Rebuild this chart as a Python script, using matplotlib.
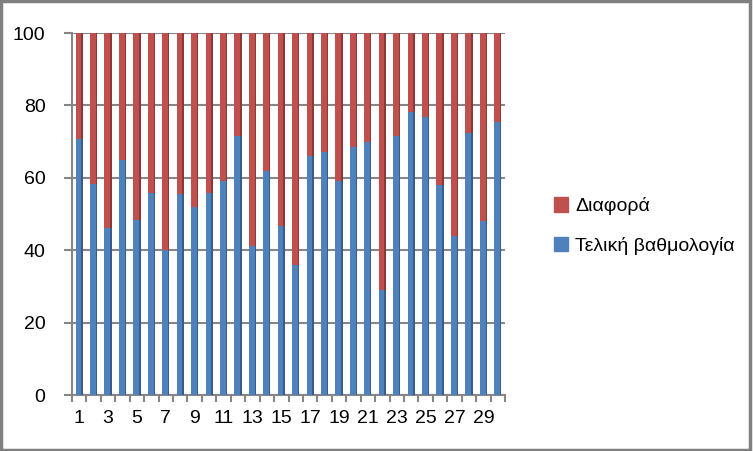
import matplotlib
matplotlib.use("Agg")
import matplotlib.pyplot as plt
import numpy as np
from matplotlib.patches import Patch, Rectangle

categories = list(range(1, 31))
score = [70.8, 58.4, 46.0, 64.8, 48.3, 55.9, 40.0, 55.5, 52.0, 55.9,
         59.2, 71.5, 41.1, 62.0, 46.7, 36.0, 66.0, 67.1, 59.2, 68.4,
         70.0, 29.0, 71.5, 78.2, 76.7, 58.0, 44.0, 72.4, 48.0, 75.3]
diff = [100 - s for s in score]
xtick_labels = [str(c) if c % 2 == 1 else "" for c in categories]

plt.rcParams['font.family'] = ['Liberation Sans Narrow', 'Liberation Sans', 'DejaVu Sans']

fig = plt.figure(figsize=(7.53, 4.51), dpi=100)
ax = fig.add_axes([72/753, 1-395/451, (505-72)/753, (395-33)/451])

x = np.arange(len(categories))
blue, blue_d = '#4F81BD', '#385D8A'
red, red_d = '#C0504D', '#8C3836'
w = 0.40
sw = 0.10
ax.bar(x - sw/2, score, width=w, color=blue, zorder=3)
ax.bar(x - sw/2, diff, bottom=score, width=w, color=red, zorder=3)
ax.bar(x + w/2, score, width=sw, color=blue_d, zorder=3)
ax.bar(x + w/2, diff, bottom=score, width=sw, color=red_d, zorder=3)

ax.set_xlim(-0.5, len(categories) - 0.5)
ax.set_ylim(0, 100)
ax.set_yticks([0, 20, 40, 60, 80, 100])
ax.yaxis.grid(True, color='#868686', linewidth=1.5, zorder=0)
ax.set_axisbelow(True)

ax.set_xticks(x)
ax.set_xticklabels(xtick_labels)
ax.set_xticks(np.arange(-0.5, len(categories), 1), minor=True)
ax.tick_params(axis='x', which='major', length=0, pad=11, labelsize=14)
ax.tick_params(axis='x', which='minor', length=5, width=1.5, color='#868686', direction='out')
ax.tick_params(axis='y', length=6, width=1.5, color='#868686', pad=13, labelsize=14)

for s in ['top', 'right']:
    ax.spines[s].set_visible(False)
for s in ['left', 'bottom']:
    ax.spines[s].set_color('#868686')
    ax.spines[s].set_linewidth(1.5)

handles = [Patch(color=red, label='Διαφορά'), Patch(color=blue, label='Τελική βαθμολογία')]
fig.legend(handles=handles, loc='center left', bbox_to_anchor=(536/753, 1-226/451),
           frameon=False, fontsize=14, handlelength=0.75, handleheight=0.75,
           handletextpad=0.35, labelspacing=1.1)

fig.patches.append(Rectangle((0.0015, 0.003), 0.995, 0.994, transform=fig.transFigure,
                             fill=False, edgecolor='#808080', linewidth=2.5))

fig.savefig('out.png', dpi=100)
